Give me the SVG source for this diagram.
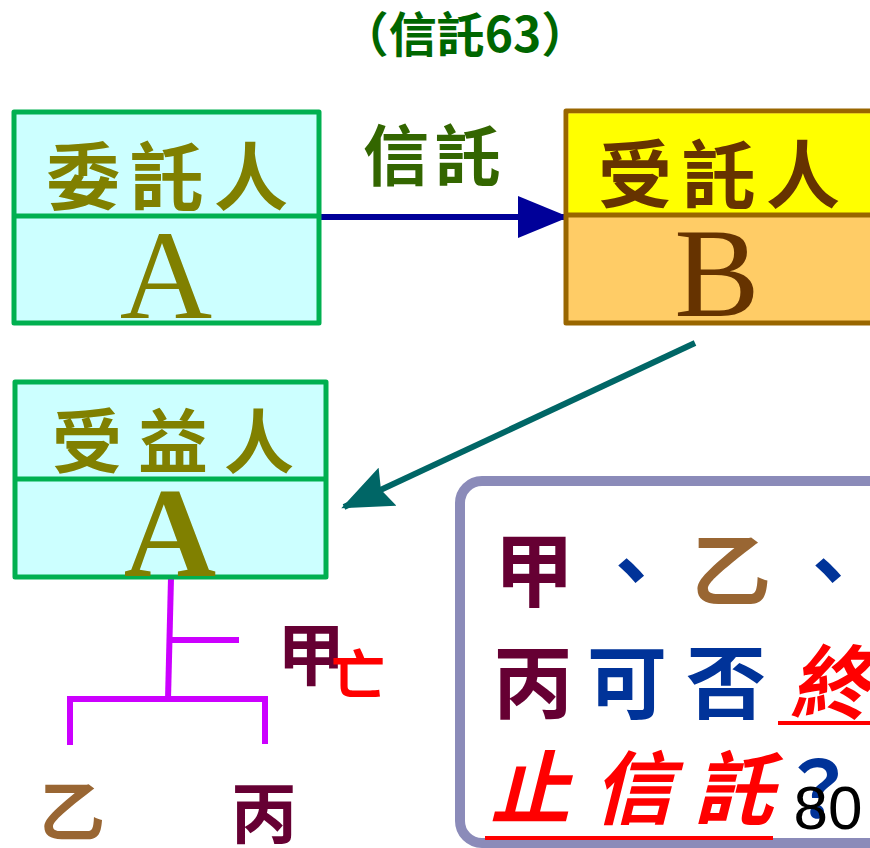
<svg xmlns="http://www.w3.org/2000/svg" width="870" height="848" viewBox="0 0 870 848">
<defs>
<style>
.cjk{font-family:"Noto Sans CJK TC","Noto Sans CJK SC",sans-serif;font-weight:700;}
.serif{font-family:"Liberation Serif",serif;}
.bx{stroke-width:5;stroke-linejoin:round;}
.tree{stroke:#CC00FF;stroke-width:6;fill:none;}
</style>
<marker id="ah1" markerWidth="8.5" markerHeight="7" refX="8" refY="3.5" orient="auto" markerUnits="strokeWidth"><path d="M0,0 L8.5,3.5 L0,7 Z" fill="#000099"/></marker>
<marker id="ah2" markerWidth="8.5" markerHeight="7" refX="8" refY="3.5" orient="auto" markerUnits="strokeWidth"><path d="M0,0 L8.5,3.5 L0,7 L1.2,3.5 Z" fill="#006666"/></marker>
</defs>
<rect width="870" height="848" fill="#FFFFFF"/>

<text class="cjk" x="465" y="52" font-size="48" font-weight="500" fill="#006600" text-anchor="middle">（信託63）</text>

<g id="connectors">
<line x1="320" y1="217" x2="566" y2="217" stroke="#000099" stroke-width="6" marker-end="url(#ah1)"/>
<line x1="695" y1="343" x2="344" y2="507" stroke="#006666" stroke-width="6" marker-end="url(#ah2)"/>
<text class="cjk" x="435" y="180" font-size="66" font-weight="500" fill="#336600" text-anchor="middle" letter-spacing="6">信託</text>
<polyline class="tree" points="171,578 168,699"/>
<line class="tree" x1="168" y1="640" x2="239" y2="640"/>
<polyline class="tree" points="70,745 70,699 265,699 265,744"/>
</g>

<g id="settlor">
<rect class="bx" x="14" y="112" width="305" height="211" fill="#CCFFFF" stroke="#00B050"/>
<line x1="14" y1="216" x2="319" y2="216" stroke="#00B050" stroke-width="5"/>
<text class="cjk" x="172" y="204" font-size="74" font-weight="500" fill="#808000" text-anchor="middle" letter-spacing="10">委託人</text>
<text class="serif" x="166" y="318" font-size="128" fill="#808000" text-anchor="middle">A</text>
</g>

<g id="trustee">
<rect class="bx" x="566" y="111" width="310" height="212" fill="#FFCC66" stroke="#996600"/>
<rect x="568.5" y="113.5" width="305" height="100" fill="#FFFF00"/>
<line x1="566" y1="215" x2="876" y2="215" stroke="#996600" stroke-width="5"/>
<text class="cjk" x="724" y="202" font-size="74" font-weight="500" fill="#663300" text-anchor="middle" letter-spacing="10">受託人</text>
<text class="serif" x="717" y="316" font-size="128" fill="#663300" text-anchor="middle">B</text>
</g>

<g id="beneficiary">
<rect class="bx" x="15" y="382" width="311" height="195" fill="#CCFFFF" stroke="#00B050"/>
<line x1="15" y1="479" x2="326" y2="479" stroke="#00B050" stroke-width="5"/>
<text class="cjk" x="181" y="468" font-size="70" font-weight="500" fill="#808000" text-anchor="middle" letter-spacing="16">受益人</text>
<text class="serif" x="170" y="576" font-size="128" font-weight="700" fill="#808000" text-anchor="middle">A</text>
</g>

<g id="jia-dead">
<text class="cjk" x="311" y="680" font-size="68" fill="#660033" text-anchor="middle">甲</text>
<text class="cjk" x="358" y="695" font-size="54" fill="#FF0000" text-anchor="middle">亡</text>
</g>

<g id="yi">
<text class="cjk" x="72" y="836" font-size="66" fill="#996633" text-anchor="middle">乙</text>
</g>
<g id="bing">
<text class="cjk" x="264" y="838" font-size="66" fill="#660033" text-anchor="middle">丙</text>
</g>

<g id="question">
<rect x="460" y="481" width="430" height="362" rx="22" fill="#FFFFFF" stroke="#8B8BB9" stroke-width="10"/>
<text class="cjk" font-size="80" text-anchor="middle">
<tspan x="534" y="600" fill="#660033">甲</tspan><tspan x="631" y="600" fill="#003399">、</tspan><tspan x="731" y="600" fill="#996633">乙</tspan><tspan x="828" y="600" fill="#003399">、</tspan>
</text>
<text class="cjk" font-size="80" text-anchor="middle">
<tspan x="533" y="712" fill="#660033">丙</tspan><tspan x="627" y="712" fill="#003399">可</tspan><tspan x="726" y="712" fill="#003399">否</tspan><tspan x="830" y="712" fill="#FF0000" font-style="italic">終</tspan>
</text>
<line x1="778" y1="723" x2="870" y2="723" stroke="#FF0000" stroke-width="4"/>
<text class="cjk" font-size="80" text-anchor="middle" fill="#FF0000" font-style="italic">
<tspan x="530" y="818">止</tspan><tspan x="633" y="818">信</tspan><tspan x="734" y="818">託</tspan>
</text>
<text class="cjk" x="818" y="818" font-size="78" fill="#003399" text-anchor="middle">？</text>
<line x1="485" y1="838" x2="773" y2="838" stroke="#FF0000" stroke-width="4"/>
<text x="828" y="829" font-family="Liberation Sans, Arial, sans-serif" font-size="62" fill="#000000" text-anchor="middle">80</text>
</g>
</svg>
